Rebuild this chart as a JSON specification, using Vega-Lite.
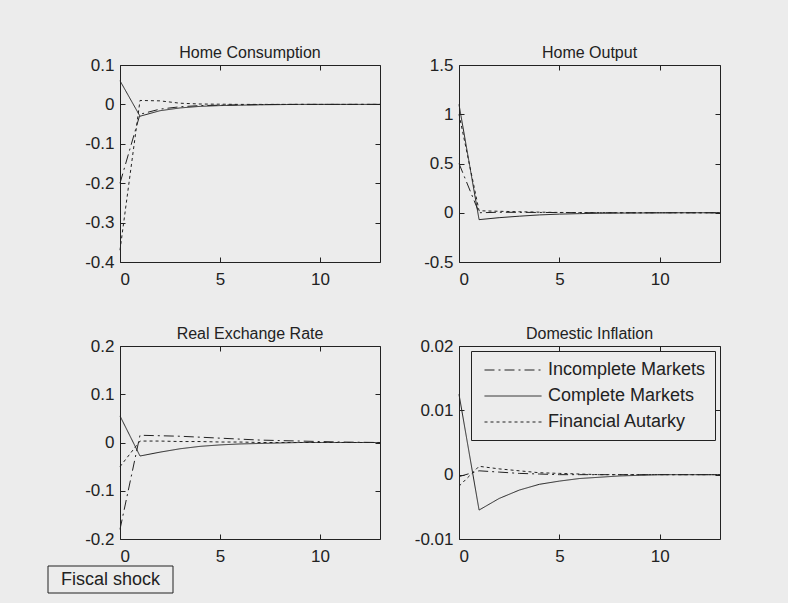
{
"$schema": "https://vega.github.io/schema/vega-lite/v6.json",
"background": "#ececec",
"padding": {"left": 47, "top": 44, "right": 69, "bottom": 10},
"config": {
  "font": "Liberation Sans",
  "view": {"stroke": "#222", "strokeWidth": 1, "fill": null},
  "axis": {"domain": false, "grid": false, "tickSize": -5, "tickColor": "#222", "labelFont": "Liberation Sans", "labelFontSize": 17, "labelColor": "#222", "title": null},
  "axisX": {"labelPadding": 14},
  "axisY": {"labelPadding": 11},
  "title": {"font": "Liberation Sans", "fontSize": 16, "fontWeight": "normal", "color": "#222", "offset": -5, "baseline": "alphabetic"},
  "line": {"strokeWidth": 1, "color": "#222"}
},
"datasets": {
  "irf": [
{"panel":"HC","series":"Complete Markets","t":0,"value":0.06},{"panel":"HC","series":"Complete Markets","t":1,"value":-0.03},{"panel":"HC","series":"Complete Markets","t":2,"value":-0.016},{"panel":"HC","series":"Complete Markets","t":3,"value":-0.009},{"panel":"HC","series":"Complete Markets","t":4,"value":-0.005},{"panel":"HC","series":"Complete Markets","t":5,"value":-0.003},{"panel":"HC","series":"Complete Markets","t":6,"value":-0.002},{"panel":"HC","series":"Complete Markets","t":7,"value":-0.001},{"panel":"HC","series":"Complete Markets","t":8,"value":-0.0005},{"panel":"HC","series":"Complete Markets","t":9,"value":0},{"panel":"HC","series":"Complete Markets","t":10,"value":0},{"panel":"HC","series":"Complete Markets","t":11,"value":0},{"panel":"HC","series":"Complete Markets","t":12,"value":0},{"panel":"HC","series":"Complete Markets","t":13,"value":0},
{"panel":"HC","series":"Incomplete Markets","t":0,"value":-0.2},{"panel":"HC","series":"Incomplete Markets","t":1,"value":-0.025},{"panel":"HC","series":"Incomplete Markets","t":2,"value":-0.012},{"panel":"HC","series":"Incomplete Markets","t":3,"value":-0.006},{"panel":"HC","series":"Incomplete Markets","t":4,"value":-0.003},{"panel":"HC","series":"Incomplete Markets","t":5,"value":-0.002},{"panel":"HC","series":"Incomplete Markets","t":6,"value":-0.001},{"panel":"HC","series":"Incomplete Markets","t":7,"value":-0.0005},{"panel":"HC","series":"Incomplete Markets","t":8,"value":0},{"panel":"HC","series":"Incomplete Markets","t":9,"value":0},{"panel":"HC","series":"Incomplete Markets","t":10,"value":0},{"panel":"HC","series":"Incomplete Markets","t":11,"value":0},{"panel":"HC","series":"Incomplete Markets","t":12,"value":0},{"panel":"HC","series":"Incomplete Markets","t":13,"value":0},
{"panel":"HC","series":"Financial Autarky","t":0,"value":-0.37},{"panel":"HC","series":"Financial Autarky","t":1,"value":0.01},{"panel":"HC","series":"Financial Autarky","t":2,"value":0.009},{"panel":"HC","series":"Financial Autarky","t":3,"value":0.003},{"panel":"HC","series":"Financial Autarky","t":4,"value":0.001},{"panel":"HC","series":"Financial Autarky","t":5,"value":0.0005},{"panel":"HC","series":"Financial Autarky","t":6,"value":0},{"panel":"HC","series":"Financial Autarky","t":7,"value":0},{"panel":"HC","series":"Financial Autarky","t":8,"value":0},{"panel":"HC","series":"Financial Autarky","t":9,"value":0},{"panel":"HC","series":"Financial Autarky","t":10,"value":0},{"panel":"HC","series":"Financial Autarky","t":11,"value":0},{"panel":"HC","series":"Financial Autarky","t":12,"value":0},{"panel":"HC","series":"Financial Autarky","t":13,"value":0},
{"panel":"HO","series":"Complete Markets","t":0,"value":1.1},{"panel":"HO","series":"Complete Markets","t":1,"value":-0.07},{"panel":"HO","series":"Complete Markets","t":2,"value":-0.05},{"panel":"HO","series":"Complete Markets","t":3,"value":-0.035},{"panel":"HO","series":"Complete Markets","t":4,"value":-0.022},{"panel":"HO","series":"Complete Markets","t":5,"value":-0.014},{"panel":"HO","series":"Complete Markets","t":6,"value":-0.009},{"panel":"HO","series":"Complete Markets","t":7,"value":-0.005},{"panel":"HO","series":"Complete Markets","t":8,"value":-0.003},{"panel":"HO","series":"Complete Markets","t":9,"value":-0.002},{"panel":"HO","series":"Complete Markets","t":10,"value":-0.001},{"panel":"HO","series":"Complete Markets","t":11,"value":0},{"panel":"HO","series":"Complete Markets","t":12,"value":0},{"panel":"HO","series":"Complete Markets","t":13,"value":0},
{"panel":"HO","series":"Incomplete Markets","t":0,"value":0.5},{"panel":"HO","series":"Incomplete Markets","t":1,"value":0.0},{"panel":"HO","series":"Incomplete Markets","t":2,"value":0.005},{"panel":"HO","series":"Incomplete Markets","t":3,"value":0.004},{"panel":"HO","series":"Incomplete Markets","t":4,"value":0.003},{"panel":"HO","series":"Incomplete Markets","t":5,"value":0.002},{"panel":"HO","series":"Incomplete Markets","t":6,"value":0.001},{"panel":"HO","series":"Incomplete Markets","t":7,"value":0},{"panel":"HO","series":"Incomplete Markets","t":8,"value":0},{"panel":"HO","series":"Incomplete Markets","t":9,"value":0},{"panel":"HO","series":"Incomplete Markets","t":10,"value":0},{"panel":"HO","series":"Incomplete Markets","t":11,"value":0},{"panel":"HO","series":"Incomplete Markets","t":12,"value":0},{"panel":"HO","series":"Incomplete Markets","t":13,"value":0},
{"panel":"HO","series":"Financial Autarky","t":0,"value":1.0},{"panel":"HO","series":"Financial Autarky","t":1,"value":0.02},{"panel":"HO","series":"Financial Autarky","t":2,"value":0.015},{"panel":"HO","series":"Financial Autarky","t":3,"value":0.01},{"panel":"HO","series":"Financial Autarky","t":4,"value":0.006},{"panel":"HO","series":"Financial Autarky","t":5,"value":0.003},{"panel":"HO","series":"Financial Autarky","t":6,"value":0.002},{"panel":"HO","series":"Financial Autarky","t":7,"value":0.001},{"panel":"HO","series":"Financial Autarky","t":8,"value":0},{"panel":"HO","series":"Financial Autarky","t":9,"value":0},{"panel":"HO","series":"Financial Autarky","t":10,"value":0},{"panel":"HO","series":"Financial Autarky","t":11,"value":0},{"panel":"HO","series":"Financial Autarky","t":12,"value":0},{"panel":"HO","series":"Financial Autarky","t":13,"value":0},
{"panel":"RER","series":"Complete Markets","t":0,"value":0.055},{"panel":"RER","series":"Complete Markets","t":1,"value":-0.028},{"panel":"RER","series":"Complete Markets","t":2,"value":-0.02},{"panel":"RER","series":"Complete Markets","t":3,"value":-0.013},{"panel":"RER","series":"Complete Markets","t":4,"value":-0.008},{"panel":"RER","series":"Complete Markets","t":5,"value":-0.005},{"panel":"RER","series":"Complete Markets","t":6,"value":-0.003},{"panel":"RER","series":"Complete Markets","t":7,"value":-0.002},{"panel":"RER","series":"Complete Markets","t":8,"value":-0.001},{"panel":"RER","series":"Complete Markets","t":9,"value":0},{"panel":"RER","series":"Complete Markets","t":10,"value":0},{"panel":"RER","series":"Complete Markets","t":11,"value":0},{"panel":"RER","series":"Complete Markets","t":12,"value":0},{"panel":"RER","series":"Complete Markets","t":13,"value":0},
{"panel":"RER","series":"Incomplete Markets","t":0,"value":-0.18},{"panel":"RER","series":"Incomplete Markets","t":1,"value":0.015},{"panel":"RER","series":"Incomplete Markets","t":2,"value":0.014},{"panel":"RER","series":"Incomplete Markets","t":3,"value":0.013},{"panel":"RER","series":"Incomplete Markets","t":4,"value":0.011},{"panel":"RER","series":"Incomplete Markets","t":5,"value":0.009},{"panel":"RER","series":"Incomplete Markets","t":6,"value":0.007},{"panel":"RER","series":"Incomplete Markets","t":7,"value":0.005},{"panel":"RER","series":"Incomplete Markets","t":8,"value":0.004},{"panel":"RER","series":"Incomplete Markets","t":9,"value":0.003},{"panel":"RER","series":"Incomplete Markets","t":10,"value":0.002},{"panel":"RER","series":"Incomplete Markets","t":11,"value":0.001},{"panel":"RER","series":"Incomplete Markets","t":12,"value":0.0005},{"panel":"RER","series":"Incomplete Markets","t":13,"value":0},
{"panel":"RER","series":"Financial Autarky","t":0,"value":-0.05},{"panel":"RER","series":"Financial Autarky","t":1,"value":0.003},{"panel":"RER","series":"Financial Autarky","t":2,"value":0.003},{"panel":"RER","series":"Financial Autarky","t":3,"value":0.002},{"panel":"RER","series":"Financial Autarky","t":4,"value":0.002},{"panel":"RER","series":"Financial Autarky","t":5,"value":0.001},{"panel":"RER","series":"Financial Autarky","t":6,"value":0.001},{"panel":"RER","series":"Financial Autarky","t":7,"value":0},{"panel":"RER","series":"Financial Autarky","t":8,"value":0},{"panel":"RER","series":"Financial Autarky","t":9,"value":0},{"panel":"RER","series":"Financial Autarky","t":10,"value":0},{"panel":"RER","series":"Financial Autarky","t":11,"value":0},{"panel":"RER","series":"Financial Autarky","t":12,"value":0},{"panel":"RER","series":"Financial Autarky","t":13,"value":0},
{"panel":"DI","series":"Complete Markets","t":0,"value":0.0125},{"panel":"DI","series":"Complete Markets","t":1,"value":-0.0055},{"panel":"DI","series":"Complete Markets","t":2,"value":-0.0037},{"panel":"DI","series":"Complete Markets","t":3,"value":-0.0024},{"panel":"DI","series":"Complete Markets","t":4,"value":-0.0015},{"panel":"DI","series":"Complete Markets","t":5,"value":-0.001},{"panel":"DI","series":"Complete Markets","t":6,"value":-0.0006},{"panel":"DI","series":"Complete Markets","t":7,"value":-0.0004},{"panel":"DI","series":"Complete Markets","t":8,"value":-0.0002},{"panel":"DI","series":"Complete Markets","t":9,"value":-0.0001},{"panel":"DI","series":"Complete Markets","t":10,"value":0},{"panel":"DI","series":"Complete Markets","t":11,"value":0},{"panel":"DI","series":"Complete Markets","t":12,"value":0},{"panel":"DI","series":"Complete Markets","t":13,"value":0},
{"panel":"DI","series":"Incomplete Markets","t":0,"value":-0.0003},{"panel":"DI","series":"Incomplete Markets","t":1,"value":0.0006},{"panel":"DI","series":"Incomplete Markets","t":2,"value":0.0004},{"panel":"DI","series":"Incomplete Markets","t":3,"value":0.0002},{"panel":"DI","series":"Incomplete Markets","t":4,"value":0.0001},{"panel":"DI","series":"Incomplete Markets","t":5,"value":0},{"panel":"DI","series":"Incomplete Markets","t":6,"value":0},{"panel":"DI","series":"Incomplete Markets","t":7,"value":0},{"panel":"DI","series":"Incomplete Markets","t":8,"value":0},{"panel":"DI","series":"Incomplete Markets","t":9,"value":0},{"panel":"DI","series":"Incomplete Markets","t":10,"value":0},{"panel":"DI","series":"Incomplete Markets","t":11,"value":0},{"panel":"DI","series":"Incomplete Markets","t":12,"value":0},{"panel":"DI","series":"Incomplete Markets","t":13,"value":0},
{"panel":"DI","series":"Financial Autarky","t":0,"value":-0.0018},{"panel":"DI","series":"Financial Autarky","t":1,"value":0.0013},{"panel":"DI","series":"Financial Autarky","t":2,"value":0.0009},{"panel":"DI","series":"Financial Autarky","t":3,"value":0.0006},{"panel":"DI","series":"Financial Autarky","t":4,"value":0.0003},{"panel":"DI","series":"Financial Autarky","t":5,"value":0.0002},{"panel":"DI","series":"Financial Autarky","t":6,"value":0.0001},{"panel":"DI","series":"Financial Autarky","t":7,"value":0},{"panel":"DI","series":"Financial Autarky","t":8,"value":0},{"panel":"DI","series":"Financial Autarky","t":9,"value":0},{"panel":"DI","series":"Financial Autarky","t":10,"value":0},{"panel":"DI","series":"Financial Autarky","t":11,"value":0},{"panel":"DI","series":"Financial Autarky","t":12,"value":0},{"panel":"DI","series":"Financial Autarky","t":13,"value":0}
  ],
  "note": [{"label": "Fiscal shock"}]
},
"resolve": {"scale": {"strokeDash": "independent"}, "legend": {"strokeDash": "independent"}},
"spacing": 0,
"vconcat": [
  {
    "bounds": "flush",
    "spacing": 0,
    "resolve": {"scale": {"strokeDash": "independent"}, "legend": {"strokeDash": "independent"}},
    "hconcat": [
      {
        "data": {"values": []},
        "width": 72, "height": 10,
        "view": {"stroke": null},
        "mark": {"type": "point", "opacity": 0},
        "encoding": {}
      },
      {
        "spacing": 37,
        "resolve": {"scale": {"strokeDash": "independent"}, "legend": {"strokeDash": "independent"}},
        "vconcat": [
          {
            "hconcat": [
              {
                "data": {"name": "irf"},
                "transform": [{"filter": "datum.panel === 'HC'"}],
                "title": "Home Consumption",
                "width": 260, "height": 197,
                "encoding": {
                  "x": {"field": "t", "type": "quantitative", "scale": {"domain": [0, 13], "nice": false}, "axis": {"values": [0, 5, 10]}},
                  "y": {"field": "value", "type": "quantitative", "scale": {"domain": [-0.4, 0.1], "nice": false, "zero": false}, "axis": {"values": [-0.4, -0.3, -0.2, -0.1, 0, 0.1], "labelExpr": "'' + datum.value"}}
                },
                "layer": [
                  {"mark": {"type": "line"}, "encoding": {"strokeDash": {"field": "series", "type": "nominal", "scale": {"domain": ["Incomplete Markets", "Complete Markets", "Financial Autarky"], "range": [[10, 4, 2, 4], [1, 0], [3, 3]]}, "legend": null}}},
                  {"mark": {"type": "line", "opacity": 0}, "encoding": {
                    "x": {"field": "t", "type": "quantitative", "axis": {"orient": "top", "labels": false, "values": [0, 5, 10]}},
                    "y": {"field": "value", "type": "quantitative", "axis": {"orient": "right", "labels": false, "values": [-0.4, -0.3, -0.2, -0.1, 0, 0.1]}},
                    "detail": {"field": "series"}}}
                ],
                "resolve": {"axis": {"x": "independent", "y": "independent"}}
              },
              {
                "data": {"name": "irf"},
                "transform": [{"filter": "datum.panel === 'HO'"}],
                "title": "Home Output",
                "width": 261, "height": 197,
                "encoding": {
                  "x": {"field": "t", "type": "quantitative", "scale": {"domain": [0, 13], "nice": false}, "axis": {"values": [0, 5, 10]}},
                  "y": {"field": "value", "type": "quantitative", "scale": {"domain": [-0.5, 1.5], "nice": false, "zero": false}, "axis": {"values": [-0.5, 0, 0.5, 1, 1.5], "labelExpr": "'' + datum.value"}}
                },
                "layer": [
                  {"mark": {"type": "line"}, "encoding": {"strokeDash": {"field": "series", "type": "nominal", "scale": {"domain": ["Incomplete Markets", "Complete Markets", "Financial Autarky"], "range": [[10, 4, 2, 4], [1, 0], [3, 3]]}, "legend": null}}},
                  {"mark": {"type": "line", "opacity": 0}, "encoding": {
                    "x": {"field": "t", "type": "quantitative", "axis": {"orient": "top", "labels": false, "values": [0, 5, 10]}},
                    "y": {"field": "value", "type": "quantitative", "axis": {"orient": "right", "labels": false, "values": [-0.5, 0, 0.5, 1, 1.5]}},
                    "detail": {"field": "series"}}}
                ],
                "resolve": {"axis": {"x": "independent", "y": "independent"}}
              }
            ],
            "bounds": "flush",
            "spacing": 79,
            "resolve": {"scale": {"strokeDash": "independent"}, "legend": {"strokeDash": "independent"}}
          },
          {
            "hconcat": [
              {
                "data": {"name": "irf"},
                "transform": [{"filter": "datum.panel === 'RER'"}],
                "title": "Real Exchange Rate",
                "width": 260, "height": 193,
                "encoding": {
                  "x": {"field": "t", "type": "quantitative", "scale": {"domain": [0, 13], "nice": false}, "axis": {"values": [0, 5, 10]}},
                  "y": {"field": "value", "type": "quantitative", "scale": {"domain": [-0.2, 0.2], "nice": false, "zero": false}, "axis": {"values": [-0.2, -0.1, 0, 0.1, 0.2], "labelExpr": "'' + datum.value"}}
                },
                "layer": [
                  {"mark": {"type": "line"}, "encoding": {"strokeDash": {"field": "series", "type": "nominal", "scale": {"domain": ["Incomplete Markets", "Complete Markets", "Financial Autarky"], "range": [[10, 4, 2, 4], [1, 0], [3, 3]]}, "legend": null}}},
                  {"mark": {"type": "line", "opacity": 0}, "encoding": {
                    "x": {"field": "t", "type": "quantitative", "axis": {"orient": "top", "labels": false, "values": [0, 5, 10]}},
                    "y": {"field": "value", "type": "quantitative", "axis": {"orient": "right", "labels": false, "values": [-0.2, -0.1, 0, 0.1, 0.2]}},
                    "detail": {"field": "series"}}}
                ],
                "resolve": {"axis": {"x": "independent", "y": "independent"}}
              },
              {
                "data": {"name": "irf"},
                "transform": [{"filter": "datum.panel === 'DI'"}],
                "title": "Domestic Inflation",
                "width": 261, "height": 193,
                "encoding": {
                  "x": {"field": "t", "type": "quantitative", "scale": {"domain": [0, 13], "nice": false}, "axis": {"values": [0, 5, 10]}},
                  "y": {"field": "value", "type": "quantitative", "scale": {"domain": [-0.01, 0.02], "nice": false, "zero": false}, "axis": {"values": [-0.01, 0, 0.01, 0.02], "labelExpr": "'' + datum.value"}}
                },
                "layer": [
                  {"mark": {"type": "line"}, "encoding": {"strokeDash": {"field": "series", "type": "nominal", "scale": {"domain": ["Incomplete Markets", "Complete Markets", "Financial Autarky"], "range": [[10, 4, 2, 4], [1, 0], [3, 3]]},
                    "legend": {"orient": "top-right", "offset": 5, "title": null, "strokeColor": "#222", "fillColor": "#ececec", "padding": 9, "labelFont": "Liberation Sans", "labelFontSize": 18, "labelColor": "#222", "symbolType": "M-3,0H3", "symbolSize": 361, "symbolStrokeWidth": 1, "symbolStrokeColor": "#222", "symbolFillColor": "transparent", "symbolOffset": 23, "rowPadding": 7, "labelOffset": 25}}}},
                  {"mark": {"type": "line", "opacity": 0}, "encoding": {
                    "x": {"field": "t", "type": "quantitative", "axis": {"orient": "top", "labels": false, "values": [0, 5, 10]}},
                    "y": {"field": "value", "type": "quantitative", "axis": {"orient": "right", "labels": false, "values": [-0.01, 0, 0.01, 0.02]}},
                    "detail": {"field": "series"}}}
                ],
                "resolve": {"axis": {"x": "independent", "y": "independent"}}
              }
            ],
            "bounds": "flush",
            "spacing": 79,
            "resolve": {"scale": {"strokeDash": "independent"}, "legend": {"strokeDash": "independent"}}
          }
        ]
      }
    ]
  },
  {
    "data": {"name": "note"},
    "width": 125, "height": 27,
    "view": {"stroke": null},
    "layer": [
      {"mark": {"type": "rect", "fill": null, "stroke": "#222", "strokeWidth": 1}, "encoding": {}},
      {"mark": {"type": "text", "font": "Liberation Sans", "fontSize": 18, "color": "#222"}, "encoding": {"text": {"field": "label", "type": "nominal"}}}
    ]
  }
]
}
